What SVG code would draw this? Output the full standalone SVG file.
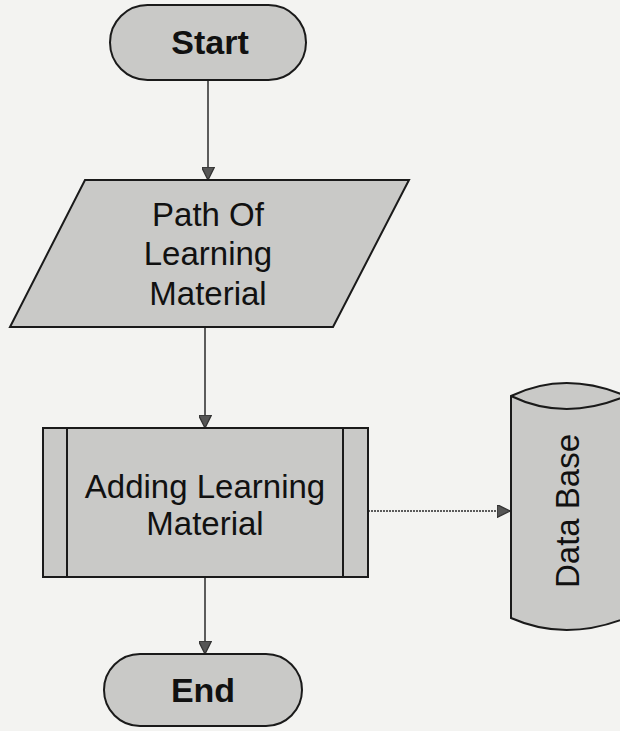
<svg xmlns="http://www.w3.org/2000/svg" width="620" height="731" viewBox="0 0 620 731">
  <style>
    .shape { fill: #c9c9c7; stroke: #1a1a1a; stroke-width: 2; }
    .inner { fill: none; stroke: #1a1a1a; stroke-width: 2; }
    .conn { fill: none; stroke: #2a2a2a; stroke-width: 1.5; }
    .lbl { font-family: "Liberation Sans", Arial, sans-serif; font-size: 33px; fill: #111; text-anchor: middle; }
    .bold { font-weight: bold; font-size: 34px; }
  </style>
  <defs>
    <marker id="arrow" viewBox="0 0 10 10" refX="10" refY="5" markerWidth="13" markerHeight="13" markerUnits="userSpaceOnUse" orient="auto">
      <path d="M0,0 L10,5 L0,10 Z" fill="#555" stroke="#333" stroke-width="1"/>
    </marker>
  </defs>
  <rect width="620" height="731" fill="#f3f3f1"/>

  <g id="connectors">
    <line class="conn" x1="208" y1="80" x2="208" y2="180" marker-end="url(#arrow)"/>
    <line class="conn" x1="205" y1="327" x2="205" y2="428" marker-end="url(#arrow)"/>
    <line class="conn" x1="368" y1="511" x2="510" y2="511" stroke-dasharray="2 1" marker-end="url(#arrow)"/>
    <line class="conn" x1="205" y1="577" x2="205" y2="654" marker-end="url(#arrow)"/>
  </g>

  <g id="start">
    <rect class="shape" x="110" y="5" width="196" height="75" rx="37.5"/>
    <text class="lbl bold" x="210" y="54">Start</text>
  </g>

  <g id="path-of-learning-material">
    <polygon class="shape" points="85,180 409,180 333,327 10,327"/>
    <text class="lbl" x="208" y="226">Path Of</text>
    <text class="lbl" x="208" y="265">Learning</text>
    <text class="lbl" x="208" y="305">Material</text>
  </g>

  <g id="adding-learning-material">
    <rect class="shape" x="43" y="428" width="325" height="149"/>
    <line class="inner" x1="67" y1="428" x2="67" y2="577"/>
    <line class="inner" x1="343" y1="428" x2="343" y2="577"/>
    <text class="lbl" x="205" y="498">Adding Learning</text>
    <text class="lbl" x="205" y="535">Material</text>
  </g>

  <g id="data-base">
    <path class="shape" d="M511,396 Q565,370 626,396 L626,618 Q565,642 511,618 Z"/>
    <path class="inner" d="M511,396 Q565,422 626,396"/>
    <text class="lbl" transform="translate(579,511) rotate(-90)">Data Base</text>
  </g>

  <g id="end">
    <rect class="shape" x="104" y="654" width="198" height="72" rx="36"/>
    <text class="lbl bold" x="203" y="702">End</text>
  </g>
</svg>
